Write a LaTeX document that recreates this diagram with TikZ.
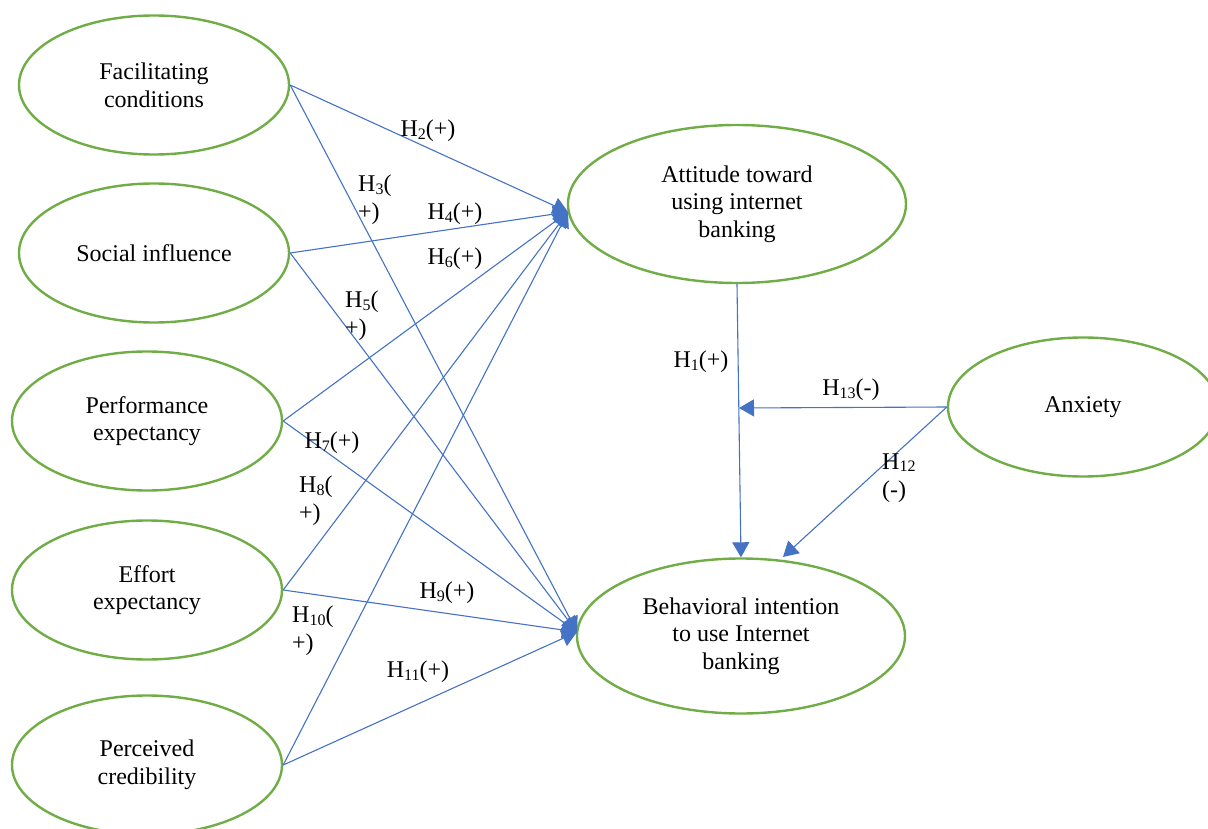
\documentclass[tikz,border=0pt]{standalone}
\usepackage{fontspec}
\setmainfont{Liberation Serif}
\usetikzlibrary{shapes.geometric,arrows.meta}
\definecolor{ovalgreen}{RGB}{112,173,71}
\definecolor{linkblue}{RGB}{68,114,196}
\newcommand{\hno}[1]{H\raisebox{-0.1em}{\fontsize{16}{16}\selectfont #1}}

\begin{document}
\begin{tikzpicture}[x=1pt,y=-1pt,
    font=\fontsize{24}{27.6}\selectfont,
    construct/.style={shape=ellipse,draw=ovalgreen,line width=2.4pt,align=center,inner sep=0pt,
        minimum width=270pt,minimum height=139pt},
    link/.style={-{Triangle[length=15pt,width=17pt]},draw=linkblue,line width=1.1pt},
    hlabel/.style={inner sep=0pt,align=left}]
    \useasboundingbox (0,0) rectangle (1208,829);

    \node[construct] (F) at (154,85) {Facilitating\\conditions};
    \node[construct] (S) at (154,253) {Social influence};
    \node[construct] (P) at (147,421) {Performance\\expectancy};
    \node[construct] (E) at (147,590) {Effort\\expectancy};
    \node[construct] (C) at (147,765) {Perceived\\credibility};
    \node[construct,minimum width=338pt,minimum height=158pt] (A) at (737,204) {Attitude toward\\using internet\\banking};
    \node[construct,minimum width=328pt,minimum height=155pt] (B) at (741,636) {Behavioral intention\\to use Internet\\banking};
    \node[construct] (X) at (1083,407) {Anxiety};

    \coordinate (attin) at (568,212);
    \coordinate (bin) at (577,632);
    \coordinate (mid) at (739,408);
    \coordinate (bnear) at (783,557);

    \path (F.east) edge[link] (attin) edge[link] (bin);
    \path (S.east) edge[link] (attin) edge[link] (bin);
    \path (P.east) edge[link] (attin) edge[link] (bin);
    \path (E.east) edge[link] (attin) edge[link] (bin);
    \path (C.east) edge[link] (attin) edge[link] (bin);
    \path (A.south) edge[link] (B.north);
    \path (X.west) edge[link] (mid) edge[link] (bnear);

    \node[hlabel] (h1) at (701,362) {\hno{1}(+)};
    \node[hlabel] (h2) at (428,131) {\hno{2}(+)};
    \node[hlabel,anchor=west] (h3) at (358,200) {\hno{3}(\\+)};
    \node[hlabel] (h4) at (455,214) {\hno{4}(+)};
    \node[hlabel,anchor=west] (h5) at (345,316) {\hno{5}(\\+)};
    \node[hlabel] (h6) at (455,259) {\hno{6}(+)};
    \node[hlabel] (h7) at (332,443) {\hno{7}(+)};
    \node[hlabel,anchor=west] (h8) at (299,501) {\hno{8}(\\+)};
    \node[hlabel] (h9) at (447,593) {\hno{9}(+)};
    \node[hlabel,anchor=west] (h10) at (292,631) {\hno{10}(\\+)};
    \node[hlabel] (h11) at (418,672) {\hno{11}(+)};
    \node[hlabel,anchor=west] (h12) at (882,478) {\hno{12}\\(-)};
    \node[hlabel] (h13) at (851,390) {\hno{13}(-)};
\end{tikzpicture}
\end{document}
